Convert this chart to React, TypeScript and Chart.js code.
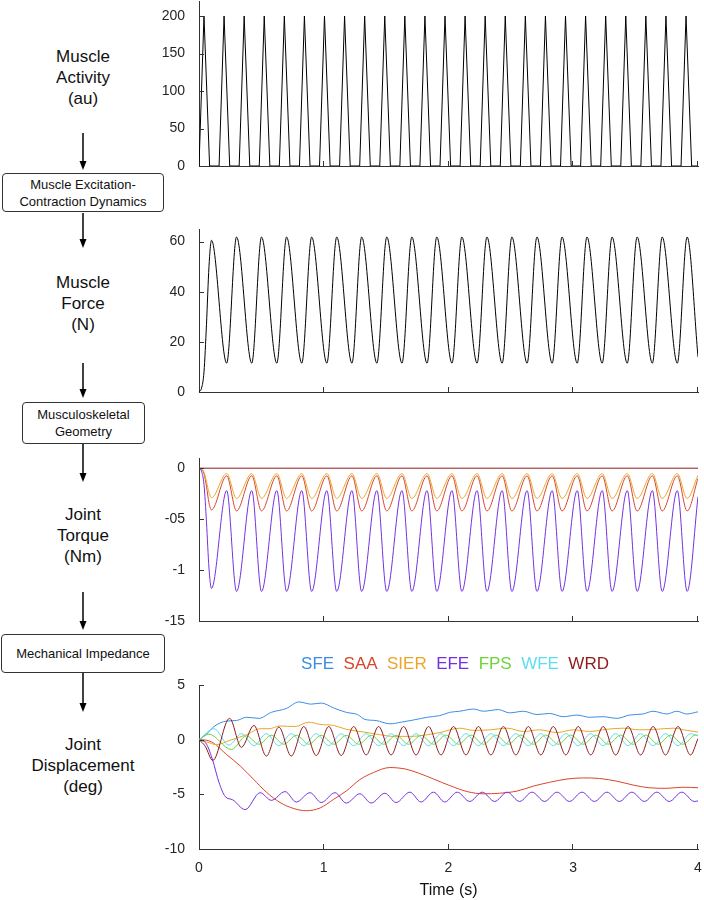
import React, { useEffect, useRef } from "react";
import { Chart, registerables } from "chart.js";

Chart.register(...registerables);

// ---------------- data ----------------
const timeTicks = [0, 1, 2, 3, 4];

// Muscle activity (au): triangular pulses [time, value]
const activity: [number, number][] = [
  [0, 0], [0.04, 200], [0.085, 0],
  [0.161, 0], [0.201, 200], [0.246, 0],
  [0.322, 0], [0.362, 200], [0.407, 0],
  [0.483, 0], [0.523, 200], [0.568, 0],
  [0.644, 0], [0.684, 200], [0.729, 0],
  [0.805, 0], [0.845, 200], [0.89, 0],
  [0.966, 0], [1.006, 200], [1.051, 0],
  [1.127, 0], [1.167, 200], [1.212, 0],
  [1.288, 0], [1.328, 200], [1.373, 0],
  [1.449, 0], [1.489, 200], [1.534, 0],
  [1.61, 0], [1.65, 200], [1.695, 0],
  [1.771, 0], [1.811, 200], [1.856, 0],
  [1.932, 0], [1.972, 200], [2.017, 0],
  [2.093, 0], [2.133, 200], [2.178, 0],
  [2.254, 0], [2.294, 200], [2.339, 0],
  [2.415, 0], [2.455, 200], [2.5, 0],
  [2.576, 0], [2.616, 200], [2.661, 0],
  [2.737, 0], [2.777, 200], [2.822, 0],
  [2.898, 0], [2.938, 200], [2.983, 0],
  [3.059, 0], [3.099, 200], [3.144, 0],
  [3.22, 0], [3.26, 200], [3.305, 0],
  [3.381, 0], [3.421, 200], [3.466, 0],
  [3.542, 0], [3.582, 200], [3.627, 0],
  [3.703, 0], [3.743, 200], [3.788, 0],
  [3.864, 0], [3.904, 200], [3.949, 0],
  [4.0, 0],
];
const activityTicks = [0, 50, 100, 150, 200];

// Muscle force (N) and joint torques (Nm) share these sample times
const forceT = [
  0, 0.02, 0.04, 0.06, 0.08, 0.1,
  0.222, 0.301, 0.423, 0.501, 0.624, 0.702, 0.824, 0.903, 1.025, 1.104,
  1.226, 1.304, 1.426, 1.505, 1.627, 1.706, 1.828, 1.906, 2.028, 2.107,
  2.229, 2.308, 2.43, 2.508, 2.63, 2.709, 2.831, 2.91, 3.032, 3.11,
  3.232, 3.311, 3.433, 3.512, 3.634, 3.713, 3.834, 3.913, 4.0,
];
const force = [
  0, 1.5, 8, 27, 50, 60.5,
  11.5, 61.8, 11.5, 61.8, 11.5, 61.8, 11.5, 61.8, 11.5, 61.8,
  11.5, 61.8, 11.5, 61.8, 11.5, 61.8, 11.5, 61.8, 11.5, 61.8,
  11.5, 61.8, 11.5, 61.8, 11.5, 61.8, 11.5, 61.8, 11.5, 61.8,
  11.5, 61.8, 11.5, 61.8, 11.5, 61.8, 11.5, 61.8, 14,
];
const forceTicks = [0, 20, 40, 60];

const torqueSAA = [
  0, -0.01, -0.055, -0.18, -0.34, -0.41,
  -0.075, -0.42, -0.075, -0.42, -0.075, -0.42, -0.075, -0.42, -0.075, -0.42,
  -0.075, -0.42, -0.075, -0.42, -0.075, -0.42, -0.075, -0.42, -0.075, -0.42,
  -0.075, -0.42, -0.075, -0.42, -0.075, -0.42, -0.075, -0.42, -0.075, -0.42,
  -0.075, -0.42, -0.075, -0.42, -0.075, -0.42, -0.075, -0.42, -0.1,
];
const torqueSIER = [
  0, -0.007, -0.04, -0.13, -0.24, -0.29,
  -0.053, -0.297, -0.053, -0.297, -0.053, -0.297, -0.053, -0.297, -0.053, -0.297,
  -0.053, -0.297, -0.053, -0.297, -0.053, -0.297, -0.053, -0.297, -0.053, -0.297,
  -0.053, -0.297, -0.053, -0.297, -0.053, -0.297, -0.053, -0.297, -0.053, -0.297,
  -0.053, -0.297, -0.053, -0.297, -0.053, -0.297, -0.053, -0.297, -0.07,
];
const torqueEFE = [
  0, -0.03, -0.16, -0.53, -0.98, -1.18,
  -0.22, -1.21, -0.22, -1.21, -0.22, -1.21, -0.22, -1.21, -0.22, -1.21,
  -0.22, -1.21, -0.22, -1.21, -0.22, -1.21, -0.22, -1.21, -0.22, -1.21,
  -0.22, -1.21, -0.22, -1.21, -0.22, -1.21, -0.22, -1.21, -0.22, -1.21,
  -0.22, -1.21, -0.22, -1.21, -0.22, -1.21, -0.22, -1.21, -0.28,
];
const torqueZeroT = [0, 4];
const torqueWRD = [0, 0];
const torqueTicks = [-1.5, -1, -0.5, 0];
const torqueTickLabels = ["-15", "-1", "-05", "0"];

// Joint displacement (deg) [time, value]
const dispSFE: [number, number][] = [
  [0, 0], [0.06, 0.5], [0.12, 1.2], [0.22, 1.7], [0.3, 1.75], [0.38, 2.05], [0.48, 1.95],
  [0.58, 2.5], [0.7, 2.85], [0.8, 3.45], [0.9, 3.25], [0.98, 3.35], [1.08, 2.9], [1.18, 2.5],
  [1.27, 2.3], [1.33, 1.85], [1.42, 1.75], [1.53, 1.45], [1.62, 1.6], [1.72, 1.8], [1.83, 2.05],
  [1.93, 2.2], [2.01, 2.5], [2.09, 2.6], [2.2, 2.8], [2.28, 2.6], [2.4, 2.75], [2.49, 2.45],
  [2.6, 2.6], [2.71, 2.3], [2.81, 2.4], [2.92, 2.1], [3.03, 2.25], [3.13, 2.05], [3.24, 2.1],
  [3.35, 1.95], [3.45, 2.25], [3.56, 2.35], [3.64, 2.6], [3.75, 2.35], [3.83, 2.6], [3.91, 2.35],
  [4.0, 2.55],
];
const dispSAA: [number, number][] = [
  [0, 0], [0.06, -0.05], [0.115, -0.3], [0.22, -1.35], [0.33, -2.4], [0.435, -3.6], [0.54, -4.8],
  [0.65, -5.75], [0.76, -6.3], [0.86, -6.5], [0.97, -6.25], [1.08, -5.45], [1.18, -4.7],
  [1.29, -3.65], [1.4, -3.0], [1.53, -2.55], [1.66, -2.7], [1.77, -3.1], [1.88, -3.6],
  [2.01, -4.2], [2.15, -4.75], [2.28, -4.95], [2.41, -4.9], [2.55, -4.7], [2.68, -4.25],
  [2.81, -3.9], [2.95, -3.6], [3.08, -3.5], [3.21, -3.55], [3.35, -3.8], [3.48, -4.15],
  [3.61, -4.4], [3.75, -4.45], [3.88, -4.35], [4.0, -4.4],
];
const dispSIER: [number, number][] = [
  [0, 0], [0.06, -0.2], [0.14, -0.45], [0.25, -0.05], [0.38, 0.45], [0.49, 1.0], [0.56, 1.0],
  [0.65, 1.25], [0.77, 1.2], [0.88, 1.6], [0.97, 1.4], [1.08, 1.3], [1.18, 0.95], [1.32, 0.7],
  [1.45, 0.45], [1.56, 0.3], [1.69, 0.3], [1.83, 0.45], [1.93, 0.65], [2.09, 1.05], [2.2, 0.85],
  [2.33, 0.9], [2.47, 1.05], [2.6, 0.75], [2.73, 0.9], [2.87, 0.65], [3.0, 0.9], [3.13, 0.75],
  [3.27, 0.95], [3.4, 1.05], [3.53, 0.9], [3.67, 0.95], [3.8, 1.05], [3.91, 0.85], [4.0, 0.7],
];
const dispEFE: [number, number][] = [
  [0, 0], [0.06, -0.4], [0.11, -1.9], [0.16, -3.9], [0.21, -5.2], [0.27, -5.5], [0.37, -6.4],
  [0.49, -4.85], [0.58, -5.55], [0.69, -4.75], [0.78, -5.7], [0.89, -4.85], [0.98, -5.75],
  [1.09, -4.85], [1.18, -5.8], [1.29, -4.95], [1.38, -5.8], [1.49, -4.9], [1.58, -5.75],
  [1.69, -4.8], [1.78, -5.7], [1.88, -4.8], [1.97, -5.7], [2.07, -4.8], [2.17, -5.65],
  [2.27, -4.8], [2.37, -5.65], [2.47, -4.8], [2.57, -5.65], [2.67, -4.8], [2.77, -5.65],
  [2.87, -4.8], [2.97, -5.65], [3.07, -4.8], [3.17, -5.65], [3.27, -4.8], [3.37, -5.65],
  [3.47, -4.8], [3.57, -5.65], [3.67, -4.8], [3.77, -5.65], [3.87, -4.8], [3.97, -5.65],
  [4.0, -5.6],
];
const dispFPS: [number, number][] = [
  [0, 0], [0.08, 0.5], [0.26, -0.9], [0.38, 0.35], [0.48, -0.42], [0.58, 0.4], [0.68, -0.42],
  [0.78, 0.4], [0.88, -0.42], [0.98, 0.4], [1.08, -0.42], [1.18, 0.4], [1.28, -0.42],
  [1.38, 0.4], [1.48, -0.42], [1.58, 0.4], [1.68, -0.42], [1.78, 0.4], [1.88, -0.42],
  [1.98, 0.42], [2.08, -0.42], [2.18, 0.42], [2.28, -0.42], [2.38, 0.42], [2.48, -0.42],
  [2.58, 0.42], [2.68, -0.42], [2.78, 0.42], [2.88, -0.42], [2.98, 0.42], [3.08, -0.42],
  [3.18, 0.42], [3.28, -0.42], [3.38, 0.42], [3.48, -0.42], [3.58, 0.42], [3.68, -0.42],
  [3.78, 0.42], [3.88, -0.42], [3.98, 0.42], [4.0, 0.4],
];
const dispWFE: [number, number][] = [
  [0, 0], [0.12, 1.0], [0.24, -0.5], [0.34, 0.55], [0.44, -0.55], [0.54, 0.55], [0.64, -0.55],
  [0.74, 0.55], [0.84, -0.55], [0.94, 0.55], [1.04, -0.55], [1.14, 0.55], [1.24, -0.55],
  [1.34, 0.55], [1.44, -0.55], [1.54, 0.55], [1.64, -0.55], [1.74, 0.55], [1.84, -0.55],
  [1.94, 0.55], [2.04, -0.55], [2.14, 0.55], [2.24, -0.55], [2.34, 0.55], [2.44, -0.55],
  [2.54, 0.55], [2.64, -0.55], [2.74, 0.55], [2.84, -0.55], [2.94, 0.55], [3.04, -0.55],
  [3.14, 0.55], [3.24, -0.55], [3.34, 0.55], [3.44, -0.55], [3.54, 0.55], [3.64, -0.55],
  [3.74, 0.55], [3.84, -0.55], [3.94, 0.55], [4.0, 0.35],
];
const dispWRD: [number, number][] = [
  [0, 0], [0.05, -0.6], [0.11, -1.9], [0.245, 1.95], [0.34, -0.7], [0.44, 1.3], [0.54, -1.5],
  [0.64, 1.15], [0.74, -1.5], [0.84, 1.2], [0.94, -1.45], [1.04, 1.2], [1.14, -1.45],
  [1.24, 1.2], [1.34, -1.4], [1.44, 1.2], [1.54, -1.4], [1.64, 1.2], [1.74, -1.4], [1.84, 1.2],
  [1.94, -1.4], [2.04, 1.2], [2.14, -1.4], [2.24, 1.2], [2.34, -1.4], [2.44, 1.2], [2.54, -1.4],
  [2.64, 1.2], [2.74, -1.4], [2.84, 1.2], [2.94, -1.4], [3.04, 1.2], [3.14, -1.4], [3.24, 1.2],
  [3.34, -1.4], [3.44, 1.2], [3.54, -1.4], [3.64, 1.2], [3.74, -1.4], [3.84, 1.2], [3.94, -1.4],
  [4.0, 0.1],
];
const dispTicks = [-10, -5, 0, 5];

const jointNames = ["SFE", "SAA", "SIER", "EFE", "FPS", "WFE", "WRD"];
const jointColors = ["#3b8de5", "#d9452b", "#eea42a", "#7431e0", "#6cd43a", "#5fdcf0", "#8f1a1a"];

// ---------------- styling ----------------
const FONT = "Arial, 'Liberation Sans', Helvetica, sans-serif";
const AXIS = "#333333";
const TXT = "#262626";

const inwardTicks = {
  id: "inwardTicks",
  afterDatasetsDraw(chart: any) {
    const { ctx, chartArea, scales } = chart;
    ctx.save();
    ctx.strokeStyle = AXIS;
    ctx.lineWidth = 1;
    ctx.beginPath();
    for (const t of scales.y.ticks) {
      const py = Math.round(scales.y.getPixelForValue(t.value)) + 0.5;
      ctx.moveTo(chartArea.left, py);
      ctx.lineTo(chartArea.left + 5, py);
    }
    for (const t of scales.x.ticks) {
      if (t.value === 0) continue;
      const px = Math.round(scales.x.getPixelForValue(t.value)) - 0.5;
      ctx.moveTo(px, chartArea.bottom);
      ctx.lineTo(px, chartArea.bottom - 5);
    }
    ctx.stroke();
    ctx.restore();
  },
};

const textLegend = {
  id: "textLegend",
  afterDraw(chart: any, _args: any, opts: any) {
    if (!opts || !opts.items) return;
    const ctx = chart.ctx;
    ctx.save();
    ctx.font = `17px ${FONT}`;
    ctx.textBaseline = "middle";
    const gap = ctx.measureText("  ").width;
    const widths = opts.items.map((it: any) => ctx.measureText(it.text).width);
    const total = widths.reduce((a: number, b: number) => a + b, 0) + gap * (widths.length - 1);
    let x = opts.centerX - total / 2;
    opts.items.forEach((it: any, i: number) => {
      ctx.fillStyle = it.color;
      ctx.fillText(it.text, x, opts.y);
      x += widths[i] + gap;
    });
    ctx.restore();
  },
};

function line(points: { x: number; y: number }[], color: string, order = 0, straight = false) {
  return {
    data: points,
    borderColor: color,
    backgroundColor: color,
    borderWidth: 1,
    pointRadius: 0,
    fill: false,
    order,
    tension: 0,
    cubicInterpolationMode: straight ? "default" : "monotone",
  };
}

const pairs = (arr: [number, number][]) => arr.map(([x, y]) => ({ x, y }));
const zip = (xs: number[], ys: number[]) => xs.map((x, i) => ({ x, y: ys[i] }));

interface Spec {
  height: number;
  padTop: number;
  xHeight: number;
  yMin: number;
  yMax: number;
  yTicks: number[];
  yLabels?: string[];
  showX: boolean;
  datasets: any[];
  legend?: any;
}

function makeConfig(s: Spec): any {
  return {
    type: "line",
    data: { datasets: s.datasets },
    plugins: [inwardTicks, textLegend],
    options: {
      animation: false,
      responsive: false,
      maintainAspectRatio: false,
      events: [],
      layout: { autoPadding: false, padding: { top: s.padTop, right: 6, left: 0, bottom: 0 } },
      plugins: {
        legend: { display: false },
        tooltip: { enabled: false },
        textLegend: s.legend || {},
      },
      scales: {
        x: {
          type: "linear",
          min: 0,
          max: 4,
          afterBuildTicks: (sc: any) => {
            sc.ticks = timeTicks.map((v) => ({ value: v }));
          },
          afterFit: (sc: any) => {
            sc.height = s.xHeight;
            sc.paddingLeft = 0;
            sc.paddingRight = 0;
            sc.paddingTop = 0;
            sc.paddingBottom = 0;
          },
          grid: { display: false },
          border: { display: true, color: AXIS, width: 1 },
          ticks: {
            display: s.showX,
            padding: 3,
            color: TXT,
            font: { family: FONT, size: 14 },
            maxRotation: 0,
          },
          title: {
            display: s.showX,
            text: "Time (s)",
            color: "#111",
            font: { family: FONT, size: 16 },
            padding: 0,
          },
        },
        y: {
          type: "linear",
          min: s.yMin,
          max: s.yMax,
          afterBuildTicks: (sc: any) => {
            sc.ticks = s.yTicks.map((v) => ({ value: v }));
          },
          afterFit: (sc: any) => {
            sc.width = 49;
            sc.paddingLeft = 0;
            sc.paddingRight = 0;
            sc.paddingTop = 0;
            sc.paddingBottom = 0;
          },
          grid: { display: false },
          border: { display: true, color: AXIS, width: 1 },
          ticks: {
            padding: 6,
            color: TXT,
            font: { family: FONT, size: 14 },
            callback: (v: number, i: number) => (s.yLabels ? s.yLabels[i] : String(v)),
          },
        },
      },
    },
  };
}

function Panel({ top, spec }: { top: number; spec: Spec }) {
  const ref = useRef<HTMLCanvasElement>(null);
  useEffect(() => {
    const chart = new Chart(ref.current as HTMLCanvasElement, makeConfig(spec));
    return () => chart.destroy();
  }, []);
  return (
    <canvas
      ref={ref}
      width={554}
      height={spec.height}
      style={{ position: "absolute", left: 150, top, width: 554, height: spec.height }}
    />
  );
}

const panel1: Spec = {
  height: 176, padTop: 1, xHeight: 10, yMin: 0, yMax: 220, yTicks: activityTicks, showX: false,
  datasets: [line(pairs(activity), "#000000", 0, true)],
};
const panel2: Spec = {
  height: 183, padTop: 10, xHeight: 10, yMin: 0, yMax: 65, yTicks: forceTicks, showX: false,
  datasets: [line(zip(forceT, force), "#000000")],
};
const panel3: Spec = {
  height: 183, padTop: 10, xHeight: 10, yMin: -1.5, yMax: 0.1, yTicks: torqueTicks,
  yLabels: torqueTickLabels, showX: false,
  datasets: [
    line(zip(forceT, torqueSAA), jointColors[1], 5),
    line(zip(forceT, torqueSIER), jointColors[2], 4),
    line(zip(forceT, torqueEFE), jointColors[3], 3),
    line(zip(torqueZeroT, torqueWRD), jointColors[6], 0),
  ],
};
const panel4: Spec = {
  height: 260, padTop: 45, xHeight: 51, yMin: -10, yMax: 5, yTicks: dispTicks, showX: true,
  datasets: [
    line(pairs(dispSFE), jointColors[0], 6),
    line(pairs(dispSAA), jointColors[1], 5),
    line(pairs(dispSIER), jointColors[2], 4),
    line(pairs(dispEFE), jointColors[3], 3),
    line(pairs(dispFPS), jointColors[4], 2),
    line(pairs(dispWFE), jointColors[5], 1),
    line(pairs(dispWRD), jointColors[6], 0),
  ],
  legend: {
    centerX: 305,
    y: 24,
    items: jointNames.map((n, i) => ({ text: n, color: jointColors[i] })),
  },
};

// ---------------- left-side flow diagram ----------------
const stageLabels = [
  { lines: ["Muscle", "Activity", "(au)"], top: 46 },
  { lines: ["Muscle", "Force", "(N)"], top: 272 },
  { lines: ["Joint", "Torque", "(Nm)"], top: 504 },
  { lines: ["Joint", "Displacement", "(deg)"], top: 734 },
];
const boxes = [
  { lines: ["Muscle Excitation-", "Contraction Dynamics"], left: 2, top: 173, width: 162, height: 39 },
  { lines: ["Musculoskeletal", "Geometry"], left: 22, top: 402, width: 123, height: 42 },
  { lines: ["Mechanical Impedance"], left: 1, top: 634, width: 164, height: 39 },
];
const arrows: [number, number][] = [
  [133, 170], [213, 248], [363, 398], [444, 482], [592, 630], [673, 712],
];

export default function App() {
  return (
    <div
      style={{
        position: "absolute", left: 0, top: 0, width: 704, height: 900,
        background: "#fff", fontFamily: FONT, overflow: "hidden",
      }}
    >
      {stageLabels.map((l, i) => (
        <div
          key={"l" + i}
          style={{
            position: "absolute", left: 0, width: 166, top: l.top, textAlign: "center",
            fontSize: 17, lineHeight: "21px", color: "#111",
          }}
        >
          {l.lines.map((t, j) => (
            <div key={j}>{t}</div>
          ))}
        </div>
      ))}
      {boxes.map((b, i) => (
        <div
          key={"b" + i}
          style={{
            position: "absolute", left: b.left, top: b.top, width: b.width, height: b.height,
            boxSizing: "border-box", border: "1px solid #333", borderRadius: 4,
            display: "flex", flexDirection: "column", justifyContent: "center", alignItems: "center",
            fontSize: 13, lineHeight: "17px", color: "#111", background: "#fff",
          }}
        >
          {b.lines.map((t, j) => (
            <div key={j} style={{ whiteSpace: "nowrap" }}>{t}</div>
          ))}
        </div>
      ))}
      <svg width={180} height={900} style={{ position: "absolute", left: 0, top: 0 }}>
        {arrows.map(([y1, y2], i) => (
          <g key={i}>
            <line x1={83} y1={y1} x2={83} y2={y2 - 8} stroke="#000" strokeWidth={1.5} />
            <polygon points={`${79.5},${y2 - 9} ${86.5},${y2 - 9} ${83},${y2}`} fill="#000" />
          </g>
        ))}
      </svg>
      <Panel top={0} spec={panel1} />
      <Panel top={219} spec={panel2} />
      <Panel top={448} spec={panel3} />
      <Panel top={640} spec={panel4} />
    </div>
  );
}
